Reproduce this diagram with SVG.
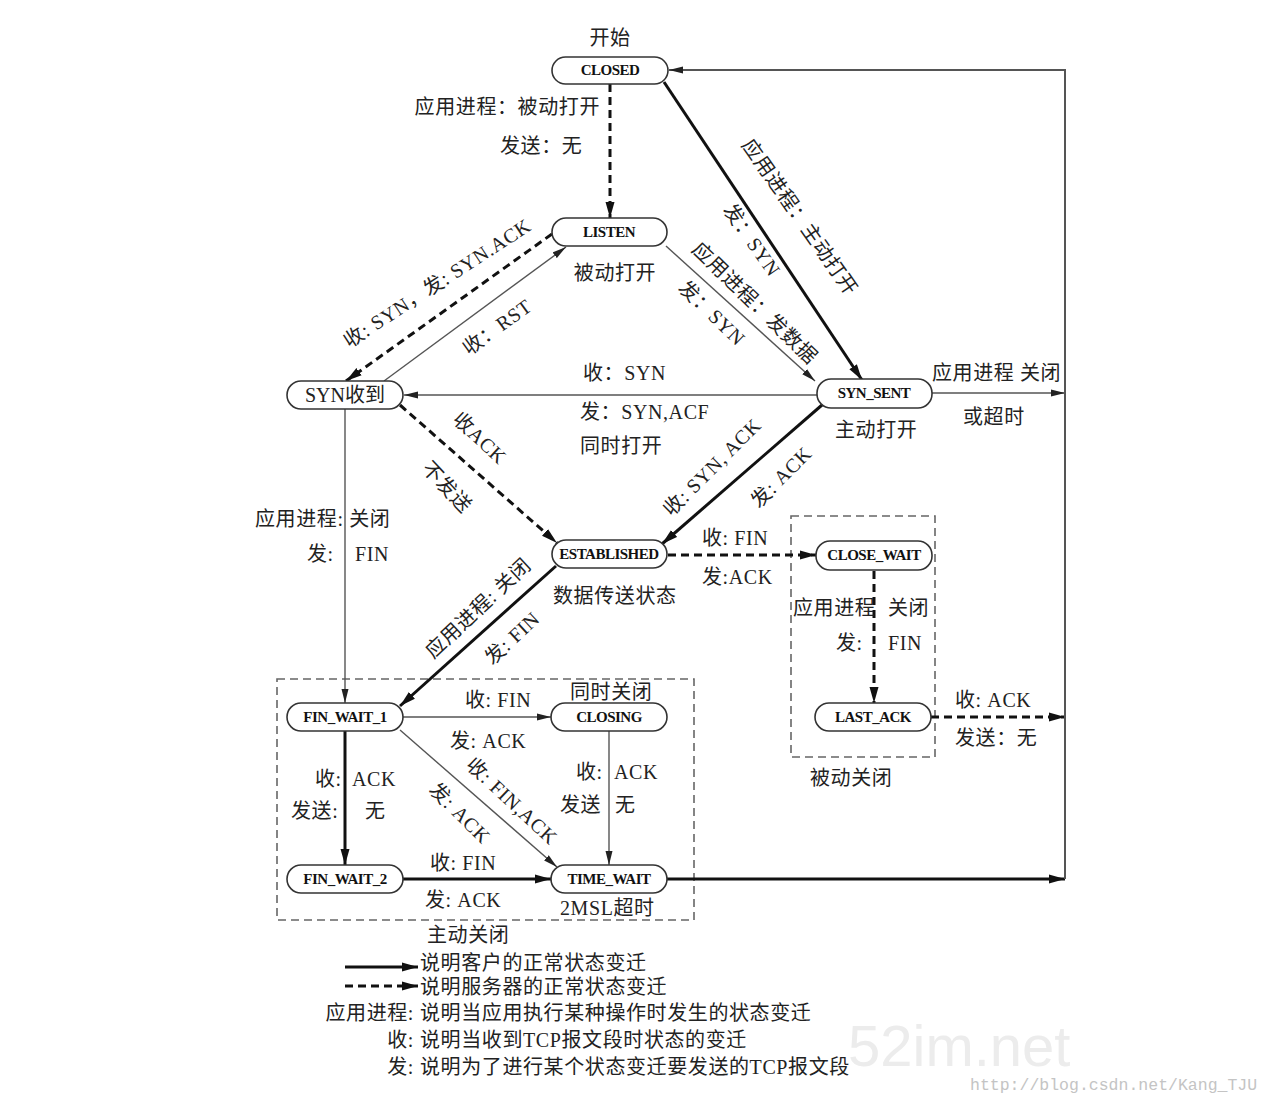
<svg xmlns="http://www.w3.org/2000/svg" width="1272" height="1100" viewBox="0 0 1272 1100">
<defs>
<style>
.nd rect{fill:#fff;stroke:#333;stroke-width:1.6}
.nl{font-family:"Liberation Serif",serif;font-weight:bold;font-size:15px;text-anchor:middle;fill:#111;letter-spacing:-0.5px}
.lb{font-family:"Liberation Serif","Noto Sans CJK SC",serif;font-size:20px;fill:#222;letter-spacing:0.6px}
.mid{text-anchor:middle}
.end{text-anchor:end}
.thick{stroke:#111;stroke-width:3;fill:none}
.dash{stroke:#111;stroke-width:3;fill:none;stroke-dasharray:8 5}
.thin{stroke:#555;stroke-width:1.4;fill:none}
.box{stroke:#666;stroke-width:1.6;fill:none;stroke-dasharray:8 5}
</style>
<marker id="ah" markerWidth="16" markerHeight="10" refX="16" refY="5" orient="auto" markerUnits="userSpaceOnUse"><path d="M0,0.5 L16,5 L0,9.5 z" fill="#111"/></marker>
<marker id="at" markerWidth="14" markerHeight="8" refX="14" refY="4" orient="auto" markerUnits="userSpaceOnUse"><path d="M0,0.5 L14,4 L0,7.5 z" fill="#222"/></marker>
</defs>
<rect width="1272" height="1100" fill="#fff"/>
<text x="848" y="1066" font-family="Liberation Sans,sans-serif" font-size="58" fill="#ececec">52im.net</text>
<text x="970" y="1090" font-family="Liberation Mono,monospace" font-size="16.5" fill="#c4c4c4">http://blog.csdn.net/Kang_TJU</text>

<g id="boxes">
<rect class="box" x="277" y="679" width="417" height="241"/>
<rect class="box" x="791" y="516" width="144" height="241"/>
</g>

<g id="connectors">
<line class="dash" x1="610" y1="84" x2="610" y2="218" marker-end="url(#ah)"/>
<line class="thick" x1="664" y1="82" x2="862" y2="380" marker-end="url(#ah)"/>
<line class="thin" x1="666" y1="246" x2="815" y2="381" marker-end="url(#at)"/>
<line class="thin" x1="384" y1="381" x2="566" y2="247" marker-end="url(#at)"/>
<line class="dash" x1="552" y1="234" x2="346" y2="381" marker-end="url(#ah)"/>
<line class="thin" x1="817" y1="395" x2="404" y2="395" marker-end="url(#at)"/>
<line class="dash" x1="400" y1="405" x2="557" y2="543" marker-end="url(#ah)"/>
<line class="thick" x1="822" y1="405" x2="662" y2="544" marker-end="url(#ah)"/>
<line class="thin" x1="932" y1="393" x2="1065" y2="393" marker-end="url(#at)"/>
<line class="thin" x1="345" y1="409" x2="345" y2="703" marker-end="url(#at)"/>
<line class="thick" x1="556" y1="566" x2="400" y2="706" marker-end="url(#ah)"/>
<line class="dash" x1="668" y1="555" x2="816" y2="555" marker-end="url(#ah)"/>
<line class="dash" x1="874" y1="571" x2="874" y2="703" marker-end="url(#ah)"/>
<line class="dash" x1="931" y1="717" x2="1065" y2="717" marker-end="url(#ah)"/>
<line class="thin" x1="403" y1="717" x2="551" y2="717" marker-end="url(#at)"/>
<line class="thick" x1="345" y1="731" x2="345" y2="865" marker-end="url(#ah)"/>
<line class="thin" x1="400" y1="730" x2="557" y2="867" marker-end="url(#at)"/>
<line class="thin" x1="609" y1="731" x2="609" y2="865" marker-end="url(#at)"/>
<line class="thick" x1="403" y1="879" x2="551" y2="879" marker-end="url(#ah)"/>
<line class="thick" x1="667" y1="879" x2="1065" y2="879" marker-end="url(#ah)"/>
<path d="M1065,879 V70 H669" stroke="#555" stroke-width="2" fill="none" marker-end="url(#at)"/>
</g>

<g id="closed" class="nd"><rect x="552" y="57" width="116" height="27" rx="13.5"/><text class="nl" x="610" y="75">CLOSED</text></g>
<g id="listen" class="nd"><rect x="552" y="218" width="115" height="28" rx="14"/><text class="nl" x="609" y="237">LISTEN</text></g>
<g id="syn_rcvd" class="nd"><rect x="287" y="381" width="116" height="28" rx="14"/><text class="lb mid" x="345" y="402" style="letter-spacing:0">SYN收到</text></g>
<g id="syn_sent" class="nd"><rect x="817" y="379" width="115" height="29" rx="14"/><text class="nl" x="874" y="398">SYN_SENT</text></g>
<g id="established" class="nd"><rect x="552" y="540" width="115" height="28" rx="14"/><text class="nl" x="609" y="559">ESTABLISHED</text></g>
<g id="close_wait" class="nd"><rect x="816" y="541" width="116" height="29" rx="14"/><text class="nl" x="874" y="560">CLOSE_WAIT</text></g>
<g id="last_ack" class="nd"><rect x="815" y="703" width="116" height="28" rx="14"/><text class="nl" x="873" y="722">LAST_ACK</text></g>
<g id="fin_wait_1" class="nd"><rect x="287" y="703" width="116" height="28" rx="14"/><text class="nl" x="345" y="722">FIN_WAIT_1</text></g>
<g id="closing" class="nd"><rect x="551" y="703" width="116" height="28" rx="14"/><text class="nl" x="609" y="722">CLOSING</text></g>
<g id="fin_wait_2" class="nd"><rect x="287" y="865" width="116" height="28" rx="14"/><text class="nl" x="345" y="884">FIN_WAIT_2</text></g>
<g id="time_wait" class="nd"><rect x="551" y="865" width="116" height="28" rx="14"/><text class="nl" x="609" y="884">TIME_WAIT</text></g>

<g id="labels" class="lb">
<text class="mid" x="610" y="45">开始</text>
<text class="end" x="600" y="114">应用进程：被动打开</text>
<text x="500" y="153">发送：无</text>
<text class="mid" x="615" y="280">被动打开</text>
<text class="mid" transform="translate(800,217) rotate(55)" y="7">应用进程：主动打开</text>
<text class="mid" transform="translate(752,240) rotate(55)" y="7">发：SYN</text>
<text class="mid" transform="translate(755,303) rotate(44)" y="7">应用进程：发数据</text>
<text class="mid" transform="translate(712,313) rotate(44)" y="7">发：SYN</text>
<text class="mid" transform="translate(437,283) rotate(-33)" y="7">收: SYN，发: SYN.ACK</text>
<text class="mid" transform="translate(497,327) rotate(-36)" y="7">收：RST</text>
<text x="583" y="380">收：SYN</text>
<text x="580" y="419">发：SYN,ACF</text>
<text x="580" y="453">同时打开</text>
<text x="932" y="380">应用进程 关闭</text>
<text x="963" y="424">或超时</text>
<text x="835" y="437">主动打开</text>
<text class="mid" transform="translate(480,438) rotate(43)" y="7">收ACK</text>
<text class="mid" transform="translate(447,487) rotate(47)" y="7">不发送</text>
<text class="mid" transform="translate(712,467) rotate(-45)" y="7">收: SYN, ACK</text>
<text class="mid" transform="translate(781,477) rotate(-45)" y="7">发: ACK</text>
<text x="255" y="526">应用进程: 关闭</text>
<text x="307" y="561">发:</text>
<text x="355" y="561">FIN</text>
<text x="553" y="603">数据传送状态</text>
<text class="mid" transform="translate(478,608) rotate(-43)" y="7">应用进程: 关闭</text>
<text class="mid" transform="translate(512,638) rotate(-43)" y="7">发: FIN</text>
<text x="702" y="545">收: FIN</text>
<text x="702" y="584">发:ACK</text>
<text x="793" y="615">应用进程</text>
<text x="888" y="615">关闭</text>
<text x="836" y="650">发:</text>
<text x="888" y="650">FIN</text>
<text x="810" y="785">被动关闭</text>
<text x="955" y="707">收: ACK</text>
<text x="955" y="745">发送：无</text>
<text x="570" y="699">同时关闭</text>
<text x="465" y="707">收: FIN</text>
<text x="450" y="748">发: ACK</text>
<text x="315" y="786">收:</text>
<text x="352" y="786">ACK</text>
<text x="291" y="818">发送:</text>
<text x="365" y="818">无</text>
<text class="mid" transform="translate(512,801) rotate(43)" y="7">收: FIN,ACK</text>
<text class="mid" transform="translate(460,813) rotate(45)" y="7">发: ACK</text>
<text x="576" y="779">收:</text>
<text x="614" y="779">ACK</text>
<text x="560" y="812">发送</text>
<text x="615" y="812">无</text>
<text x="430" y="870">收: FIN</text>
<text x="425" y="907">发: ACK</text>
<text x="560" y="915">2MSL超时</text>
<text x="427" y="942">主动关闭</text>
</g>

<g id="legend" class="lb">
<line class="thick" x1="345" y1="967" x2="418" y2="967" marker-end="url(#ah)"/>
<line class="dash" x1="345" y1="986" x2="418" y2="986" stroke-dasharray="7 4" marker-end="url(#ah)"/>
<text x="420" y="970">说明客户的正常状态变迁</text>
<text x="420" y="994">说明服务器的正常状态变迁</text>
<text class="end" x="414" y="1020">应用进程:</text>
<text x="420" y="1020">说明当应用执行某种操作时发生的状态变迁</text>
<text class="end" x="414" y="1047">收:</text>
<text x="420" y="1047">说明当收到TCP报文段时状态的变迁</text>
<text class="end" x="414" y="1074">发:</text>
<text x="420" y="1074">说明为了进行某个状态变迁要发送的TCP报文段</text>
</g>
</svg>
